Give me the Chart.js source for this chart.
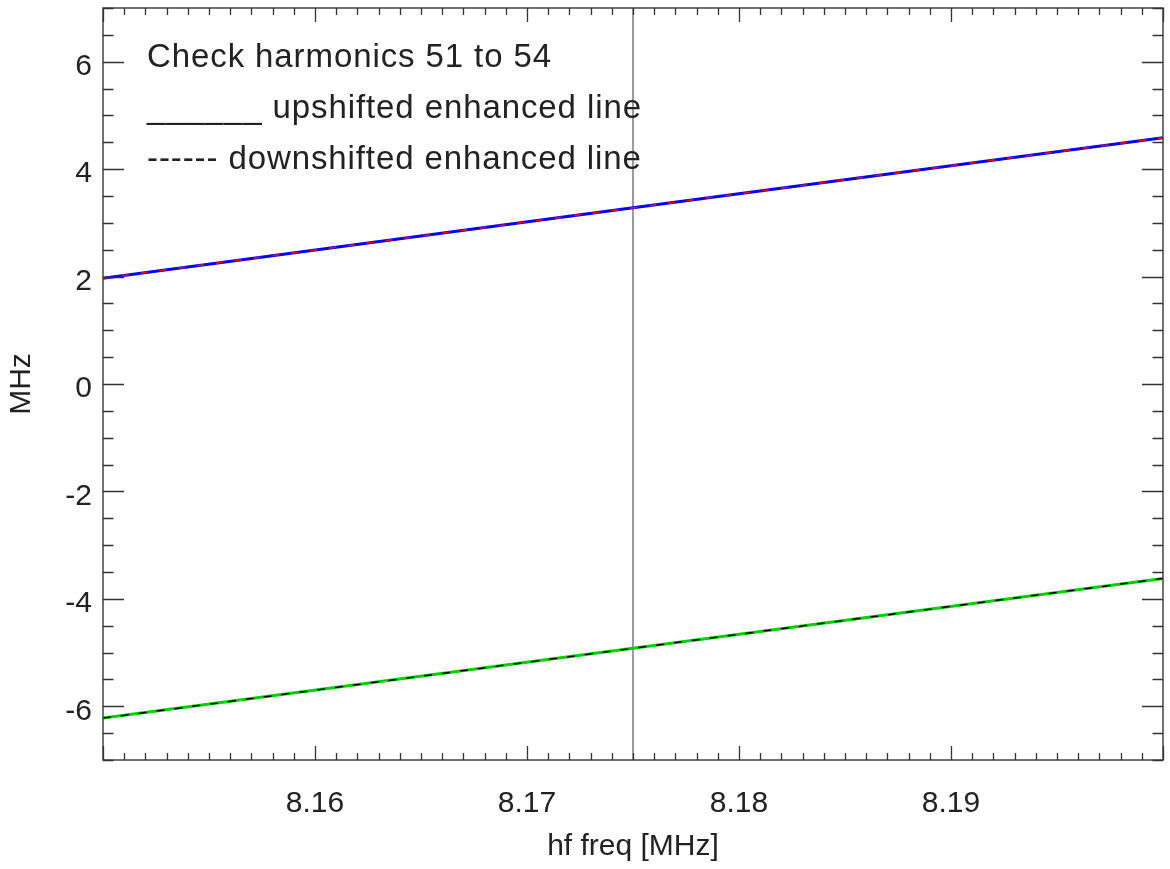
<!DOCTYPE html>
<html>
<head>
<meta charset="utf-8">
<script src="https://cdn.jsdelivr.net/npm/chart.js@4.4.1/dist/chart.umd.min.js"></script>
<style>
  html, body { margin: 0; padding: 0; background: #ffffff; }
  #wrap { width: 1170px; height: 869px; }
</style>
</head>
<body>
<div id="wrap"><canvas id="c" width="1170" height="869"></canvas></div>
<script>
// ---- data ----
const xValues = [8.15, 8.175, 8.20];
const upshifted = [1.97, 3.28, 4.585];
const downshifted = [-6.22, -4.92, -3.62];
const markerX = [8.175, 8.175];
const markerY = [-7, 7];
const xRange = [8.15, 8.20];
const yRange = [-7, 7];
const xTickLabels = ['8.16', '8.17', '8.18', '8.19'];
const yTickLabels = ['-6', '-4', '-2', '0', '2', '4', '6'];
const annotationLines = [
  'Check harmonics 51 to 54',
  '______ upshifted enhanced line',
  '------ downshifted enhanced line'
];
const xTitle = 'hf freq [MHz]';
const yTitle = 'MHz';

const FONT = '"Liberation Sans", Arial, Helvetica, sans-serif';
const TEXT = '#222222';

function pts(xs, ys) { return xs.map((x, i) => ({ x: x, y: ys[i] })); }

function zeroPad(s) { s.paddingTop = 0; s.paddingBottom = 0; s.paddingLeft = 0; s.paddingRight = 0; }

const frameTicks = {
  id: 'frameTicks',
  afterDraw(chart) {
    const { ctx, chartArea: a, scales } = chart;
    const xs = scales.x, ys = scales.y;
    ctx.save();
    ctx.strokeStyle = '#444';
    ctx.lineWidth = 1.5;
    ctx.strokeRect(a.left, a.top, a.right - a.left, a.bottom - a.top);
    ctx.lineWidth = 1.3;
    ctx.strokeStyle = '#333';
    for (let i = 0; i <= 50; i++) {
      const v = xRange[0] + i * 0.001;
      const p = Math.round(xs.getPixelForValue(v)) + 0.5;
      const len = (i % 10 === 0) ? 14 : 7;
      ctx.beginPath();
      ctx.moveTo(p, a.bottom); ctx.lineTo(p, a.bottom - len);
      ctx.moveTo(p, a.top); ctx.lineTo(p, a.top + len);
      ctx.stroke();
    }
    for (let i = 0; i <= 28; i++) {
      const v = yRange[0] + i * 0.5;
      const p = Math.round(ys.getPixelForValue(v)) + 0.5;
      const major = Math.abs((v / 2) - Math.round(v / 2)) < 1e-9;
      const len = major ? 21 : 10.5;
      ctx.beginPath();
      ctx.moveTo(a.left, p); ctx.lineTo(a.left + len, p);
      ctx.moveTo(a.right, p); ctx.lineTo(a.right - len, p);
      ctx.stroke();
    }
    ctx.fillStyle = TEXT;
    ctx.font = '33px ' + FONT;
    try { ctx.letterSpacing = '0.9px'; } catch (e) {}
    ctx.textAlign = 'left';
    ctx.textBaseline = 'alphabetic';
    const baselines = [67, 118, 169];
    annotationLines.forEach((t, i) => ctx.fillText(t, 147, baselines[i]));
    ctx.restore();
  }
};

new Chart(document.getElementById('c'), {
  type: 'line',
  data: {
    datasets: [
      { label: 'marker', data: pts(markerX, markerY), borderColor: '#666666', borderWidth: 1.3,
        pointRadius: 0, fill: false, order: 5 },
      { label: 'up', data: pts(xValues, upshifted), borderColor: '#0000ff', borderWidth: 3,
        pointRadius: 0, fill: false, order: 4 },
      { label: 'up dashed', data: pts(xValues, upshifted), borderColor: '#ff0000', borderWidth: 1.6,
        borderDash: [7, 12], pointRadius: 0, fill: false, order: 3 },
      { label: 'down', data: pts(xValues, downshifted), borderColor: '#00d000', borderWidth: 3,
        pointRadius: 0, fill: false, order: 2 },
      { label: 'down dashed', data: pts(xValues, downshifted), borderColor: '#000000', borderWidth: 1.5,
        borderDash: [8, 10], pointRadius: 0, fill: false, order: 1 }
    ]
  },
  options: {
    responsive: false,
    devicePixelRatio: 1,
    animation: false,
    layout: { padding: { top: 8, right: 7, left: 0, bottom: 0 } },
    plugins: { legend: { display: false }, tooltip: { enabled: false } },
    scales: {
      x: {
        type: 'linear', position: 'bottom', min: xRange[0], max: xRange[1],
        grid: { display: false, drawTicks: false }, border: { display: false },
        ticks: {
          stepSize: 0.01, autoSkip: false, maxRotation: 0, padding: 26,
          color: TEXT, font: { family: FONT, size: 30 },
          callback: (v) => { const s = Number(v).toFixed(2); return xTickLabels.includes(s) ? s : ''; }
        },
        title: { display: true, text: xTitle, color: TEXT, font: { family: FONT, size: 30 },
                 padding: { top: 0, bottom: 4 } },
        afterFit: (s) => { s.height = 109; zeroPad(s); }
      },
      y: {
        type: 'linear', position: 'left', min: yRange[0], max: yRange[1],
        grid: { display: false, drawTicks: false }, border: { display: false },
        ticks: {
          stepSize: 1, autoSkip: false, padding: 11, labelOffset: 5,
          color: TEXT, font: { family: FONT, size: 30 },
          callback: (v) => { const s = String(Math.round(v)); return yTickLabels.includes(s) ? s : ''; }
        },
        title: { display: true, text: yTitle, color: TEXT, font: { family: FONT, size: 30 },
                 padding: { top: 4, bottom: 0 } },
        afterFit: (s) => { s.width = 103; zeroPad(s); }
      }
    }
  },
  plugins: [frameTicks]
});
</script>
</body>
</html>
